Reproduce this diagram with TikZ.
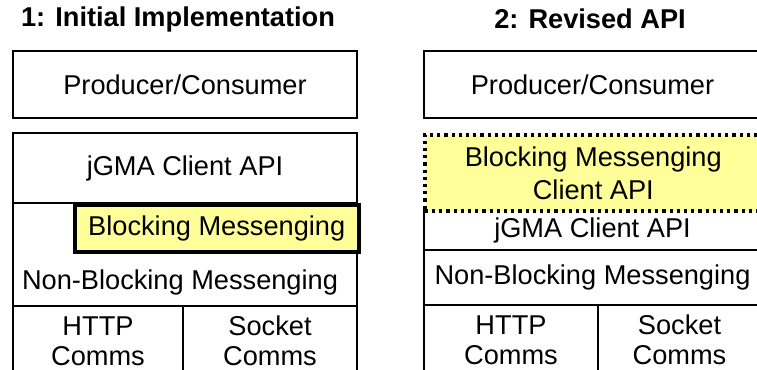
\documentclass[tikz,border=0pt]{standalone}
\usepackage{fontspec}
\setmainfont{Liberation Sans}
\definecolor{paleyellow}{HTML}{FFFF99}
\tikzset{
  layer/.style={draw, line width=1pt, rectangle, anchor=north west, inner sep=0pt},
  added/.style={layer, fill=paleyellow, line width=1.8pt, dash pattern=on 1.6pt off 2pt},
}

\begin{document}
\begin{tikzpicture}[x=0.5pt, y=-0.5pt, every node/.style={font=\fontsize{13.6}{15}\selectfont}]
	\clip (0,0) rectangle (757,370);
	
	\node[font=\fontsize{13.6}{15}\selectfont\bfseries] (titleA) at (178,19) {1: Initial Implementation};
	\node[font=\fontsize{13.6}{15}\selectfont\bfseries] (titleB) at (590,19) {2: Revised API};
	
	% first stack
	\node[layer, minimum width=172pt, minimum height=33.5pt] (prodA) at (12,50) {Producer/Consumer};
	\node[layer, minimum width=172pt, minimum height=35pt] (clientA) at (12,132) {jGMA Client API};
	\node[layer, minimum width=172pt, minimum height=51.5pt] (nonblockA) at (12,202) {};
	\node (nbtextA) at (180,282) {Non-Blocking Messenging};
	\node[layer, fill=paleyellow, line width=1.75pt, minimum width=142pt, minimum height=23.5pt] (blockA) at (73,203) {Blocking Messenging\hspace{5pt}};
	\node[layer, align=center, minimum width=85pt, minimum height=35pt] (httpA) at (12,305) {HTTP\\Comms};
	\node[layer, align=center, minimum width=87pt, minimum height=35pt] (sockA) at (182,305) {Socket\\Comms};
	
	% second stack
	\node[layer, minimum width=168.5pt, minimum height=33.5pt] (prodB) at (423,50) {Producer/Consumer};
	\node[layer, minimum width=168.5pt, minimum height=20pt] (clientB) at (423,209) {jGMA Client API};
	\node[added, align=center, minimum width=168.5pt, minimum height=38pt, font=\fontsize{13.6}{16.5}\selectfont] (blockB) at (423,133) {Blocking Messenging\\Client API};
	\node[layer, minimum width=168.5pt, minimum height=27.5pt] (nonblockB) at (423,249) {Non-Blocking Messenging};
	\node[layer, align=center, minimum width=87pt, minimum height=35pt] (httpB) at (423,304) {HTTP\\Comms};
	\node[layer, align=center, minimum width=81.5pt, minimum height=35pt] (sockB) at (597,304) {Socket\\Comms};
\end{tikzpicture}
\end{document}
